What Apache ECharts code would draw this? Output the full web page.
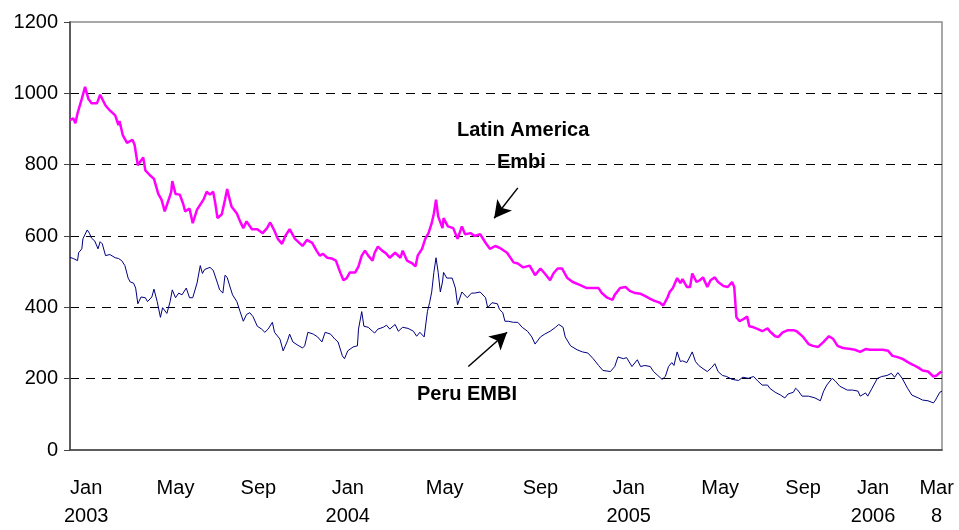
<!DOCTYPE html>
<html>
<head>
<meta charset="utf-8">
<title>Latin America Embi vs Peru EMBI</title>
<script src="https://cdn.jsdelivr.net/npm/echarts@6/dist/echarts.min.js"></script>
<style>
  html, body { margin: 0; padding: 0; background: #fff; }
  #chart { width: 959px; height: 530px; }
</style>
</head>
<body>
<div id="chart"></div>
<script>
// x = trading day since 2 Jan 2003 (0 .. 810 = 8 Mar 2006), y = spread in basis points
var latamEmbi = [
  [0,925],[3,930],[5,916],[7,944],[11,985],[14,1018],[17,985],[20,972],[25,972],[28,996],
  [33,966],[37,952],[42,938],[45,911],[46,922],[49,883],[53,861],[58,870],[60,856],[63,798],
  [66,812],[68,820],[70,784],[74,771],[78,760],[82,718],[85,702],[88,669],[91,696],[94,724],
  [95,754],[98,718],[102,716],[105,691],[107,669],[111,677],[114,636],[118,674],[121,688],[124,702],
  [127,724],[130,716],[133,724],[135,691],[137,650],[141,661],[144,702],[146,732],[147,718],[150,683],
  [155,663],[158,641],[161,622],[164,641],[169,619],[174,619],[179,608],[183,622],[186,638],[190,614],
  [193,592],[197,578],[200,600],[204,619],[209,592],[214,578],[216,572],[220,589],[225,581],[229,559],
  [232,545],[235,550],[239,539],[243,537],[247,531],[251,498],[254,476],[257,482],[260,498],[265,498],
  [268,515],[271,545],[274,559],[277,545],[281,531],[283,553],[286,570],[290,559],[294,550],[297,539],
  [302,553],[307,539],[309,559],[313,531],[318,523],[321,515],[323,545],[327,564],[330,592],[333,608],
  [336,636],[338,663],[340,702],[342,655],[346,622],[347,650],[351,627],[356,622],[360,592],[364,627],
  [367,605],[372,608],[376,600],[381,605],[386,581],[390,564],[395,572],[399,567],[406,553],[412,526],
  [416,523],[421,512],[427,517],[432,490],[437,509],[441,495],[446,476],[449,495],[453,509],[457,509],
  [462,482],[467,471],[474,462],[480,454],[486,454],[491,454],[494,440],[499,427],[504,421],[506,435],
  [511,454],[516,457],[520,446],[525,440],[530,438],[534,432],[539,424],[543,418],[548,413],[551,405],
  [555,427],[557,443],[560,454],[564,482],[567,468],[569,479],[573,457],[576,457],[578,495],[582,471],
  [585,476],[588,484],[592,457],[595,476],[599,484],[602,471],[607,460],[611,457],[615,471],[617,457],
  [619,372],[622,361],[625,366],[629,374],[631,347],[635,344],[639,339],[643,333],[648,341],[650,333],
  [655,319],[658,317],[662,330],[667,336],[672,336],[675,333],[681,317],[686,297],[690,292],[695,289],
  [700,303],[705,319],[709,311],[713,292],[718,286],[725,283],[729,281],[734,275],[739,283],[743,281],
  [750,281],[755,281],[760,278],[764,264],[768,261],[773,256],[779,245],[783,239],[788,231],[792,223],
  [797,220],[802,206],[805,209],[808,217],[810,220]
];

var peruEmbi = [
  [0,540],[3,537],[7,531],[8,553],[11,564],[12,592],[16,617],[18,608],[20,594],[23,586],
  [26,564],[28,584],[30,578],[33,545],[37,548],[42,539],[45,537],[48,531],[51,517],[54,482],
  [56,471],[59,468],[61,454],[63,410],[66,429],[70,427],[72,416],[76,429],[78,451],[81,416],
  [84,372],[86,399],[90,383],[93,416],[95,449],[98,427],[101,440],[104,435],[108,454],[111,427],
  [114,427],[118,468],[121,517],[123,495],[125,506],[130,512],[133,504],[137,468],[139,449],[142,440],
  [144,490],[146,484],[149,454],[151,435],[155,416],[158,388],[161,361],[164,380],[167,385],[170,374],
  [174,347],[178,339],[181,330],[184,339],[188,358],[190,330],[195,311],[198,278],[202,306],[204,325],
  [207,303],[211,295],[216,286],[218,292],[221,330],[226,325],[230,317],[234,303],[237,330],[242,325],
  [246,311],[249,303],[253,264],[255,256],[258,278],[263,289],[267,292],[268,339],[271,388],[273,347],
  [277,344],[281,333],[283,328],[286,339],[291,344],[294,350],[297,339],[302,352],[305,333],[309,344],
  [314,341],[319,333],[322,319],[325,330],[329,317],[332,388],[334,413],[336,443],[338,498],[340,539],
  [342,498],[344,443],[346,471],[347,498],[350,482],[355,482],[358,454],[360,407],[364,443],[369,427],
  [373,440],[376,440],[381,443],[386,427],[388,399],[392,413],[397,410],[399,394],[402,385],[404,361],
  [407,361],[412,358],[416,358],[420,344],[425,333],[429,317],[432,297],[437,317],[441,325],[446,333],
  [451,344],[454,352],[458,344],[460,317],[465,292],[471,281],[476,275],[481,272],[486,256],[491,237],
  [495,223],[502,220],[506,234],[509,261],[514,256],[517,259],[522,234],[527,253],[530,234],[534,237],
  [539,234],[542,220],[546,209],[550,198],[553,206],[556,234],[559,245],[561,237],[564,275],[567,248],
  [569,250],[573,245],[578,275],[581,248],[584,237],[588,228],[592,220],[596,231],[599,242],[602,220],
  [606,209],[610,206],[615,198],[621,195],[625,204],[630,201],[635,206],[639,193],[643,182],[648,182],
  [650,173],[655,162],[660,154],[664,146],[667,157],[672,162],[674,173],[676,168],[680,151],[686,151],
  [692,146],[697,138],[700,165],[703,182],[708,201],[711,193],[715,179],[722,168],[727,168],[732,165],
  [734,151],[739,160],[741,151],[745,173],[750,201],[754,206],[759,209],[763,215],[766,204],[769,217],
  [773,201],[778,173],[782,154],[788,146],[792,140],[797,138],[802,132],[804,140],[805,146],[808,162],
  [810,165]
];

// where the category text sits under the axis, and what it says
var tickDays = [15, 98, 175, 258, 348, 437, 519, 604, 681, 746, 805];
var tickLabels = ['Jan\n2003', 'May', 'Sep', 'Jan\n2004', 'May', 'Sep', 'Jan\n2005', 'May', 'Sep', 'Jan\n2006', 'Mar\n8'];

var yTicks = [0, 200, 400, 600, 800, 1000, 1200];

var FONT = '"Liberation Sans", Arial, sans-serif';

function tickText(v) {
  var i = tickDays.indexOf(v);
  return i < 0 ? '' : tickLabels[i];
}

var option = {
  animation: false,
  backgroundColor: '#ffffff',
  grid: {
    left: 70, right: 17, top: 22, bottom: 72,
    show: true, borderColor: '#8c8c8c', borderWidth: 1.5
  },
  xAxis: {
    type: 'value',
    min: 0, max: 810,
    splitLine: { show: false },
    axisTick: { show: false },
    axisLine: { show: true, onZero: false, lineStyle: { color: '#444', width: 1.5 } },
    axisLabel: {
      customValues: tickDays,
      formatter: tickText,
      margin: 24,
      color: '#000',
      fontFamily: FONT,
      fontSize: 20,
      lineHeight: 28,
      verticalAlign: 'top'
    }
  },
  yAxis: {
    type: 'value',
    min: yTicks[0], max: yTicks[yTicks.length - 1], interval: 200,
    axisLine: { show: true, lineStyle: { color: '#444', width: 1.5 } },
    axisTick: { show: true, length: 6, lineStyle: { color: '#444' } },
    axisLabel: {
      margin: 12, color: '#000', fontFamily: FONT, fontSize: 20,
      formatter: function (v) { return String(v); }
    },
    splitLine: {
      show: true, showMinLine: false, showMaxLine: false,
      lineStyle: { color: '#000', type: [9, 7], width: 1 }
    }
  },
  series: [
    {
      name: 'Latin America Embi',
      type: 'line',
      data: latamEmbi,
      showSymbol: false,
      lineStyle: { color: '#ff00ff', width: 2.5 },
      z: 3,
      markLine: {
        silent: true,
        symbol: ['none', 'arrow'],
        symbolSize: [14, 17],
        label: { show: false },
        lineStyle: { color: '#000', width: 1.5, type: 'solid' },
        data: [
          [{ coord: [416, 735] }, { coord: [394, 650] }],
          [{ coord: [370, 234] }, { coord: [406, 330] }]
        ]
      }
    },
    {
      name: 'Peru EMBI',
      type: 'line',
      data: peruEmbi,
      showSymbol: false,
      lineStyle: { color: '#000080', width: 1 },
      z: 2
    }
  ],
  graphic: [
    {
      type: 'text', left: 537 - 80, top: 120,
      style: { text: 'Latin America', width: 160, align: 'center', fill: '#000',
               font: 'bold 20px ' + FONT }
    },
    {
      type: 'text', left: 537 - 40, top: 152,
      style: { text: 'Embi', width: 80, align: 'center', fill: '#000',
               font: 'bold 20px ' + FONT }
    },
    {
      type: 'text', left: 417, top: 384,
      style: { text: 'Peru EMBI', fill: '#000', font: 'bold 20px ' + FONT }
    }
  ]
};

var chart = echarts.init(document.getElementById('chart'), null, { renderer: 'canvas' });
chart.setOption(option);
</script>
</body>
</html>
